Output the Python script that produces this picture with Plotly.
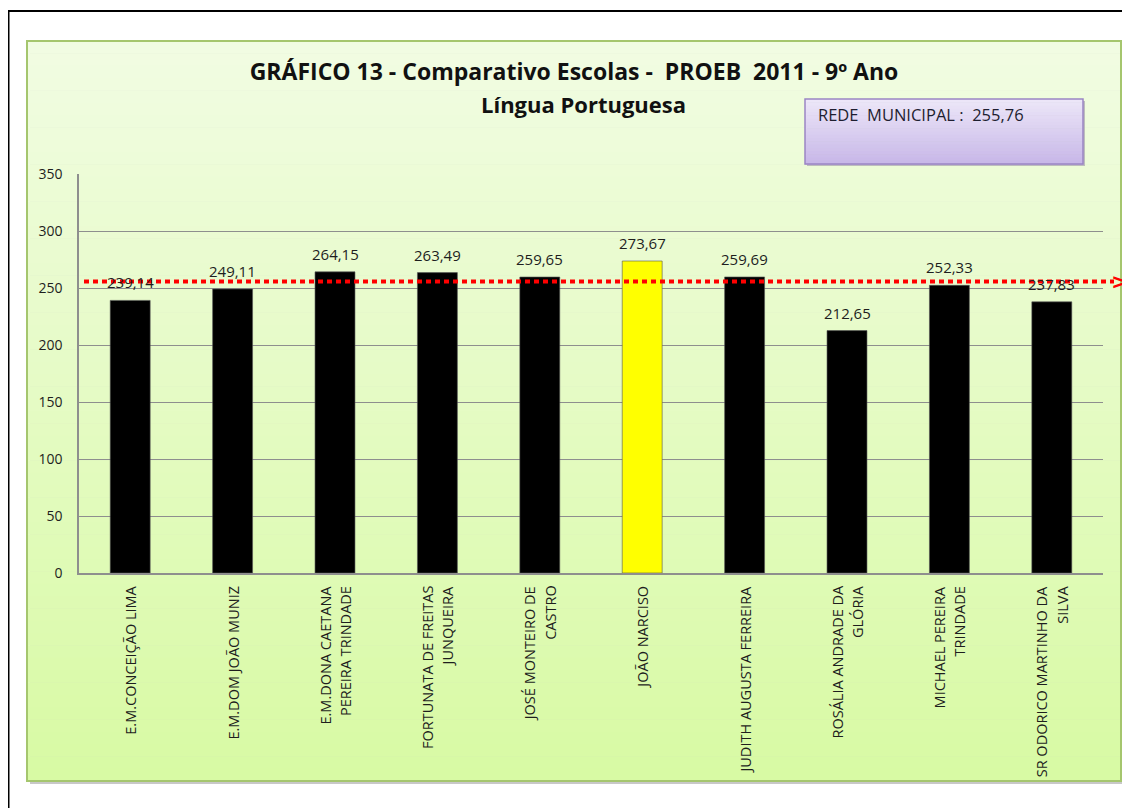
import plotly.graph_objects as go

# ---------------- data ----------------
schools = [
    "E.M.CONCEIÇÃO LIMA",
    "E.M.DOM JOÃO MUNIZ",
    "E.M.DONA CAETANA<br>PEREIRA TRINDADE",
    "FORTUNATA DE FREITAS<br>JUNQUEIRA",
    "JOSÉ MONTEIRO DE<br>CASTRO",
    "JOÃO NARCISO",
    "JUDITH AUGUSTA FERREIRA",
    "ROSÁLIA ANDRADE DA<br>GLÓRIA",
    "MICHAEL PEREIRA<br>TRINDADE",
    "SR ODORICO MARTINHO DA<br>SILVA",
]
scores = [239.14, 249.11, 264.15, 263.49, 259.65, 273.67, 259.69, 212.65, 252.33, 237.83]
highlight = "JOÃO NARCISO"
rede_municipal = 255.76
title_line1 = "GRÁFICO 13 - Comparativo Escolas -  PROEB  2011 - 9º Ano"
title_line2 = "Língua Portuguesa"
y_ticks = [0, 50, 100, 150, 200, 250, 300, 350]

# ---------------- layout geometry (page pixels) ----------------
OFF = 8                      # page body margin offset
W, H = 1130 - OFF, 808 - OFF
PL, PR, PT, PB = 79, 1103, 174, 573   # plot area in page pixels


def X(px):
    return (px - PL) / (PR - PL)


def Y(py):
    return (PB - py) / (PB - PT)


def fmt(v):
    return f"{v:.2f}".replace(".", ",")


def lerp(c1, c2, t):
    return "rgb(%d,%d,%d)" % tuple(round(a + (b - a) * t) for a, b in zip(c1, c2))


bar_colors = ["#FFFF00" if s == highlight else "#000000" for s in schools]

fig = go.Figure()
fig.add_trace(go.Bar(
    x=schools,
    y=scores,
    marker=dict(color=bar_colors, line=dict(color="#555555", width=0.6)),
    width=0.39,
    hoverinfo="skip",
))

shapes = []
# outer black frame
shapes.append(dict(type="rect", xref="paper", yref="paper",
                   x0=X(8.5), x1=X(1160), y0=Y(11), y1=Y(840),
                   line=dict(color="black", width=2), fillcolor="rgba(0,0,0,0)", layer="below"))
# panel shadow
shapes.append(dict(type="rect", xref="paper", yref="paper",
                   x0=X(30), x1=X(1124), y0=Y(44), y1=Y(784),
                   line=dict(width=0), fillcolor="#C8C8C8", layer="below"))
# panel gradient
top_c, bot_c = (241, 252, 226), (216, 250, 164)
n = 60
y_top, y_bot = 41, 781
for i in range(n):
    a = y_top + (y_bot - y_top) * i / n
    b = y_top + (y_bot - y_top) * (i + 1) / n
    shapes.append(dict(type="rect", xref="paper", yref="paper",
                       x0=X(27), x1=X(1121), y0=Y(b + 0.5), y1=Y(a),
                       line=dict(width=0), fillcolor=lerp(top_c, bot_c, i / (n - 1)), layer="below"))
shapes.append(dict(type="rect", xref="paper", yref="paper",
                   x0=X(27), x1=X(1121), y0=Y(781), y1=Y(41),
                   line=dict(color="#A5C66E", width=2), fillcolor="rgba(0,0,0,0)", layer="below"))
# municipal box
shapes.append(dict(type="rect", xref="paper", yref="paper",
                   x0=X(807), x1=X(1085), y0=Y(166), y1=Y(101),
                   line=dict(width=0), fillcolor="#BDBDBD", layer="above"))
bt, bb = (236, 230, 248), (200, 184, 232)
m = 20
for i in range(m):
    a = 99 + (164 - 99) * i / m
    b = 99 + (164 - 99) * (i + 1) / m
    shapes.append(dict(type="rect", xref="paper", yref="paper",
                       x0=X(805), x1=X(1083), y0=Y(b + 0.5), y1=Y(a),
                       line=dict(width=0), fillcolor=lerp(bt, bb, i / (m - 1)), layer="above"))
shapes.append(dict(type="rect", xref="paper", yref="paper",
                   x0=X(805), x1=X(1083), y0=Y(164), y1=Y(99),
                   line=dict(color="#9A85C4", width=1.5), fillcolor="rgba(0,0,0,0)", layer="above"))
# reference line (rede municipal)
shapes.append(dict(type="line", xref="paper", yref="y",
                   x0=X(84), x1=X(1114), y0=rede_municipal, y1=rede_municipal,
                   line=dict(color="#FF0000", width=4, dash="5px,4px"), layer="above"))

annotations = []
annotations.append(dict(text="<b>" + title_line2 + "</b>", xref="paper", yref="paper",
                        x=X(583), y=Y(104), xanchor="center", yanchor="middle", showarrow=False,
                        font=dict(family="Open Sans", size=22, color="#111111")))
annotations.append(dict(text="REDE  MUNICIPAL :  " + fmt(rede_municipal), xref="paper", yref="paper",
                        x=X(816), y=Y(115), xanchor="left", yanchor="middle", showarrow=False,
                        font=dict(family="Open Sans", size=16.5, color="#1E1E30")))
annotations.append(dict(text="<b>&gt;</b>", xref="paper", yref="y",
                        x=X(1120), y=rede_municipal, xanchor="center", yanchor="middle", showarrow=False,
                        font=dict(family="DejaVu Sans", size=22, color="#FF0000")))
# value labels above bars
for s, v in zip(schools, scores):
    annotations.append(dict(text=fmt(v), xref="x", yref="y", x=s, y=v,
                            xanchor="center", yanchor="bottom", yshift=6, showarrow=False,
                            font=dict(family="Open Sans", size=15, color="#1E1E1E")))
# category labels (rotated, lines centred)
for s in schools:
    lines = s.split("<br>")
    k = len(lines)
    for j, ln in enumerate(lines):
        annotations.append(dict(text=ln, xref="x", yref="paper", x=s, y=0,
                                xanchor="center", yanchor="top", textangle=-90,
                                xshift=(j - (k - 1) / 2) * 20, yshift=-11, showarrow=False,
                                font=dict(family="Open Sans", size=14.5, color="#1E1E1E")))

fig.update_layout(
    width=W, height=H,
    margin=dict(l=PL - OFF, r=1130 - PR, t=PT - OFF, b=808 - PB, autoexpand=False),
    paper_bgcolor="white",
    plot_bgcolor="rgba(0,0,0,0)",
    showlegend=False,
    bargap=0.61,
    title=dict(text="<b>" + title_line1 + "</b>", xref="paper", x=X(574), xanchor="center",
               y=1 - (72 - OFF) / H, yanchor="middle", yref="container",
               font=dict(family="Open Sans", size=23, color="#111111")),
    xaxis=dict(showticklabels=False, showline=True, linecolor="#8E8E8E", linewidth=1.5,
               ticks="", showgrid=False, fixedrange=True),
    yaxis=dict(range=[0, 350], tickvals=y_ticks, showgrid=True, gridcolor="#8E8E8E", gridwidth=1.2,
               showline=True, linecolor="#8E8E8E", linewidth=1.5, zeroline=False,
               ticks="", ticklabelstandoff=12,
               tickfont=dict(family="Open Sans", size=14, color="#1E1E1E")),
    shapes=shapes,
    annotations=annotations,
)

fig.write_html("out.html")
